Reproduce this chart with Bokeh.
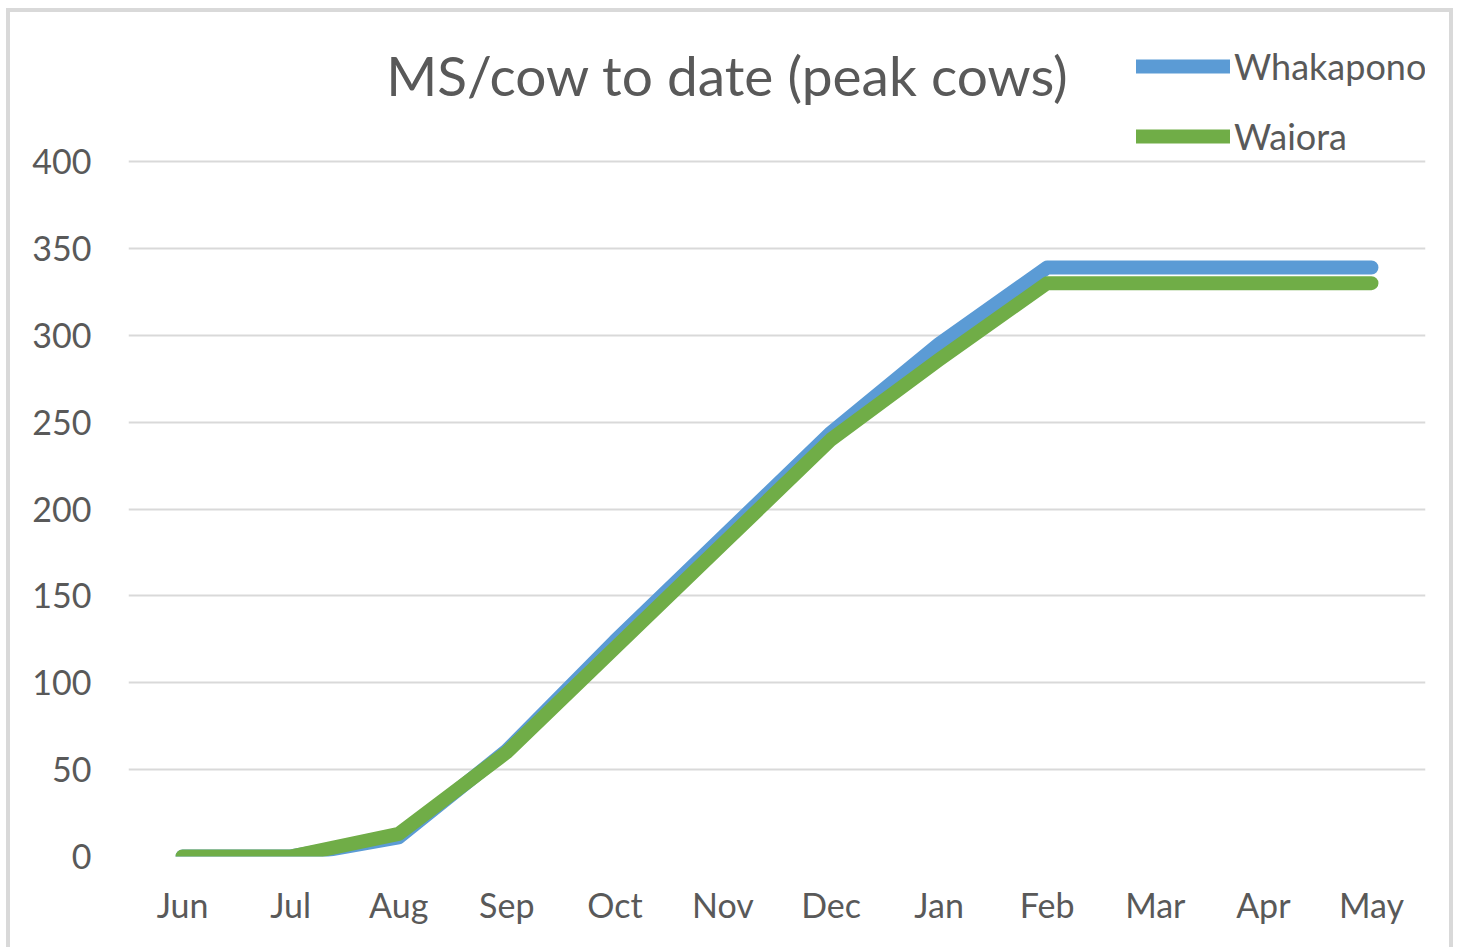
from bokeh.plotting import figure
from bokeh.models import Legend, LegendItem, Label, FactorRange, Range1d, FixedTicker
from bokeh.embed import file_html
from bokeh.resources import INLINE

months = ["Jun", "Jul", "Aug", "Sep", "Oct", "Nov", "Dec", "Jan", "Feb", "Mar", "Apr", "May"]
whakapono = [0, 0, 11, 61, 124, 184, 244, 295, 339, 339, 339, 339]
waiora = [0, 0, 13, 60, 120, 180, 240, 286, 330, 330, 330, 330]
y_ticks = [0, 50, 100, 150, 200, 250, 300, 350, 400]
title_text = "MS/cow to date (peak cows)"

TXT = "#595959"
FONT = "Lato"

# frame extends above the 400 gridline so that title/legend (drawn in frame) are not clipped
FRAME_TOP_PX, GRID400_PX, ZERO_PX = 30, 161, 856
y_top = 400 * (ZERO_PX - FRAME_TOP_PX) / (ZERO_PX - GRID400_PX)

p = figure(width=1447, height=939, x_range=FactorRange(*months, range_padding=0),
           y_range=Range1d(0, y_top), output_backend="svg", toolbar_location=None,
           min_border_left=118, min_border_right=32, min_border_top=18, min_border_bottom=95)
p.margin = (8, 0, 0, 6)
p.styles = {"border-top": "4px solid #d9d9d9", "border-left": "4px solid #d9d9d9",
            "border-right": "4px solid #d9d9d9", "box-sizing": "border-box"}
p.outline_line_color = None
p.background_fill_color = "white"
p.border_fill_color = "white"

r1 = p.line(months, whakapono, line_color="#5B9BD5", line_width=14, line_cap="round", line_join="round")
r2 = p.line(months, waiora, line_color="#70AD47", line_width=14, line_cap="round", line_join="round")

p.xgrid.grid_line_color = None
p.ygrid.grid_line_color = "#d9d9d9"
p.ygrid.grid_line_width = 2
p.yaxis.ticker = FixedTicker(ticks=y_ticks)

for ax in (p.xaxis[0], p.yaxis[0]):
    ax.axis_line_color = None
    ax.major_tick_line_color = None
    ax.minor_tick_line_color = None
    ax.major_label_text_color = TXT
    ax.major_label_text_font = FONT
    ax.major_label_text_font_size = "34px"
p.yaxis.major_label_standoff = 31
p.xaxis.major_label_standoff = 21

title = Label(x=599, y=782, x_units="screen", y_units="screen", text=title_text,
              text_align="center", text_baseline="middle", text_color=TXT,
              text_font=FONT, text_font_size="55px")
p.add_layout(title)

legend = Legend(items=[LegendItem(label="Whakapono", renderers=[r1]),
                       LegendItem(label="Waiora", renderers=[r2])],
                location=(1008, 698), orientation="vertical",
                glyph_width=94, glyph_height=40, label_height=40, spacing=26,
                label_standoff=4, padding=0, margin=0,
                background_fill_alpha=0, border_line_color=None,
                label_text_color=TXT, label_text_font=FONT, label_text_font_size="36px")
p.add_layout(legend)

open("out.html", "w").write(file_html(p, INLINE))
